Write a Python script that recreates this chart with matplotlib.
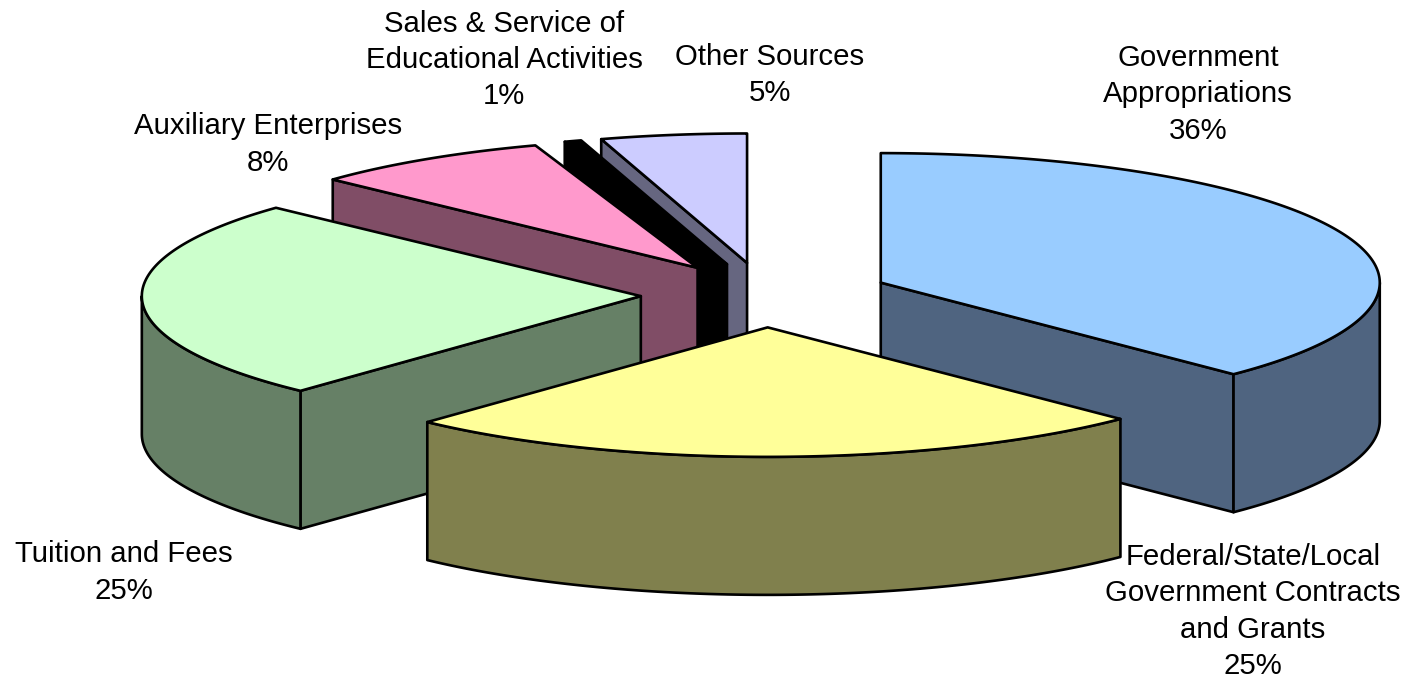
import numpy as np
import matplotlib
matplotlib.use("Agg")
import matplotlib.pyplot as plt
from matplotlib.patches import Polygon

categories = ["Government\nAppropriations", "Federal/State/Local\nGovernment Contracts\nand Grants",
              "Tuition and Fees", "Auxiliary Enterprises",
              "Sales & Service of\nEducational Activities", "Other Sources"]
percent_labels = [36, 25, 25, 8, 1, 5]
# slice shares as drawn (percent of the full circle)
shares = [37.5, 24.44, 25.0, 7.78, 0.55, 4.72]
top_colors = ["#99CCFF", "#FFFF99", "#CCFFCC", "#FF99CC", "#000000", "#CCCCFF"]
side_colors = ["#4F6480", "#80804D", "#668066", "#804D66", "#000000", "#666680"]

W, H = 1407, 681
CX, CY, A, B, DEPTH, EXPL = 765.5, 295, 499, 129.5, 138, 0.25
label_xy = [(1198, 94.5), (1253, 611.5), (124, 572.5), (268, 144.5), (504, 60), (769.5, 75)]

fig = plt.figure(figsize=(W / 100, H / 100), dpi=100)
ax = fig.add_axes([0, 0, 1, 1])
ax.set_xlim(0, W)
ax.set_ylim(H, 0)
ax.axis("off")

edges = np.concatenate([[0], np.cumsum(shares)]) / sum(shares) * 2 * np.pi
apexes = []
for t0, t1 in zip(edges[:-1], edges[1:]):
    m = (t0 + t1) / 2
    apexes.append((CX + EXPL * A * np.sin(m), CY - EXPL * B * np.cos(m)))


def rim_point(ap, t):
    return ap[0] + A * np.sin(t), ap[1] - B * np.cos(t)


def add(points, color, z):
    ax.add_patch(Polygon(points, closed=True, facecolor=color, edgecolor="black",
                         linewidth=1.9, joinstyle="round", zorder=z))


order = [5, 4, 3, 2, 0, 1]
for z, i in enumerate(order):
    t0, t1 = edges[i], edges[i + 1]
    ap = apexes[i]
    base = 10 * z
    # visible radial cut faces
    for t, visible in ((t0, np.sin(t0) <= 1e-9), (t1, np.sin(t1) > 1e-9)):
        if visible:
            p = rim_point(ap, t)
            add([ap, p, (p[0], p[1] + DEPTH), (ap[0], ap[1] + DEPTH)], side_colors[i], base + 1)
    # visible outer rim (front half of the ellipse)
    r0, r1 = max(t0, np.pi / 2), min(t1, 3 * np.pi / 2)
    if r1 > r0:
        ts = np.linspace(r0, r1, 120)
        up = [rim_point(ap, t) for t in ts]
        dn = [(x, y + DEPTH) for x, y in up][::-1]
        add(up + dn, side_colors[i], base + 2)
    # top face
    ts = np.linspace(t0, t1, 240)
    add([ap] + [rim_point(ap, t) for t in ts], top_colors[i], base + 3)

for name, pct, (x, y) in zip(categories, percent_labels, label_xy):
    ax.text(x, y, f"{name}\n{pct}%", ha="center", va="center", fontsize=21.2,
            family="Liberation Sans", color="black", linespacing=1.37, zorder=200)

fig.savefig("out.png", dpi=100, facecolor="white")
